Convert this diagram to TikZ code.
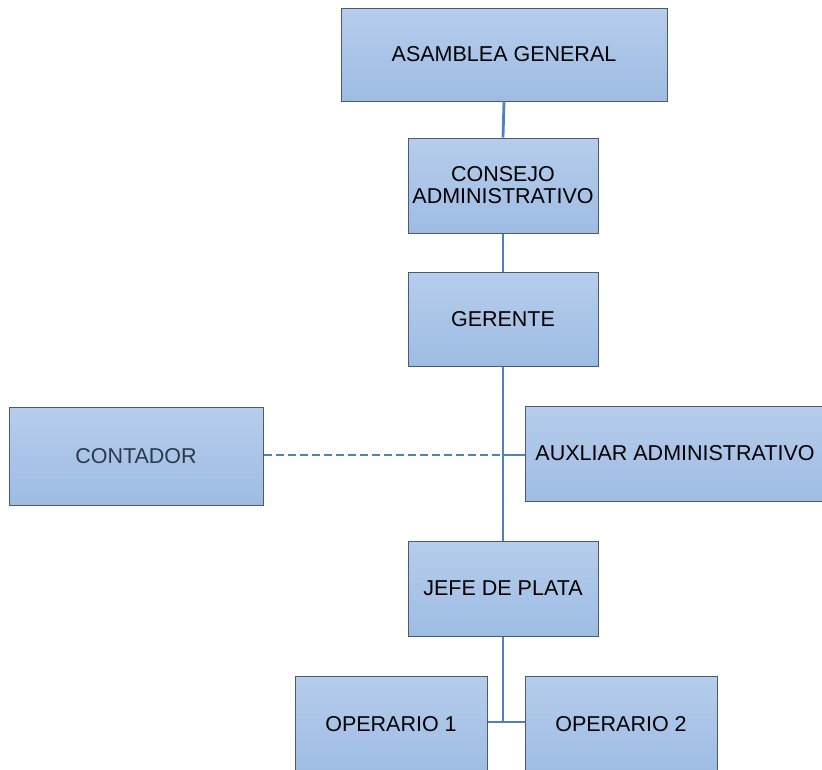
\documentclass[tikz,border=0pt]{standalone}
\usepackage{fontspec}
\setmainfont{Liberation Sans}
\definecolor{boxtop}{HTML}{B6CDEC}
\definecolor{boxbot}{HTML}{9EBCE3}
\definecolor{boxline}{HTML}{4A5C6C}
\definecolor{conn}{HTML}{4F81BD}
\definecolor{contxt}{HTML}{2A3A4C}
\tikzset{
  orgbox/.style={draw=boxline, line width=1pt, top color=boxtop, bottom color=boxbot, inner sep=0pt, font=\fontsize{21.5}{22}\selectfont, align=center},
  link/.style={draw=conn, line width=2.8pt},
  dlink/.style={draw=conn, line width=2.8pt, dash pattern=on 8pt off 4pt}
}
\begin{document}
\begin{tikzpicture}[x=1pt,y=-1pt]
\useasboundingbox (0,0) rectangle (822,769);
\clip (0,0) rectangle (822,769);
% boxes
\node[orgbox, minimum width=326pt, minimum height=93pt] (asam) at (504,54.5) {ASAMBLEA GENERAL};
\node[orgbox, minimum width=190pt, minimum height=95pt] (cons) at (503,185.5) {CONSEJO\\ADMINISTRATIVO};
\node[orgbox, minimum width=190pt, minimum height=94pt] (ger) at (503,319) {GERENTE};
\node[orgbox, minimum width=254pt, minimum height=98pt, text=contxt] (cont) at (136,456) {CONTADOR};
\node[orgbox, minimum width=300pt, minimum height=95pt] (aux) at (675,453.5) {AUXLIAR ADMINISTRATIVO};
\node[orgbox, minimum width=190pt, minimum height=95pt] (jefe) at (503,588.5) {JEFE DE PLATA};
\node[orgbox, minimum width=192pt, minimum height=96pt] (op1) at (391,724) {OPERARIO 1};
\node[orgbox, minimum width=192pt, minimum height=96pt] (op2) at (621,724) {OPERARIO 2};
% connectors
\coordinate (j1) at (503,455);
\coordinate (j2) at (503,722);
\draw[link] (asam.south) -- (cons.north);
\draw[link] (cons.south) -- (ger.north);
\draw[link] (ger.south) -- (jefe.north);
\draw[link] (j1) -- (j1 -| aux.west);
\draw[dlink] (cont.east |- j1) -- (j1);
\draw[link] (jefe.south) -- (j2);
\draw[link] (j2 -| op1.east) -- (j2 -| op2.west);
\end{tikzpicture}
\end{document}
